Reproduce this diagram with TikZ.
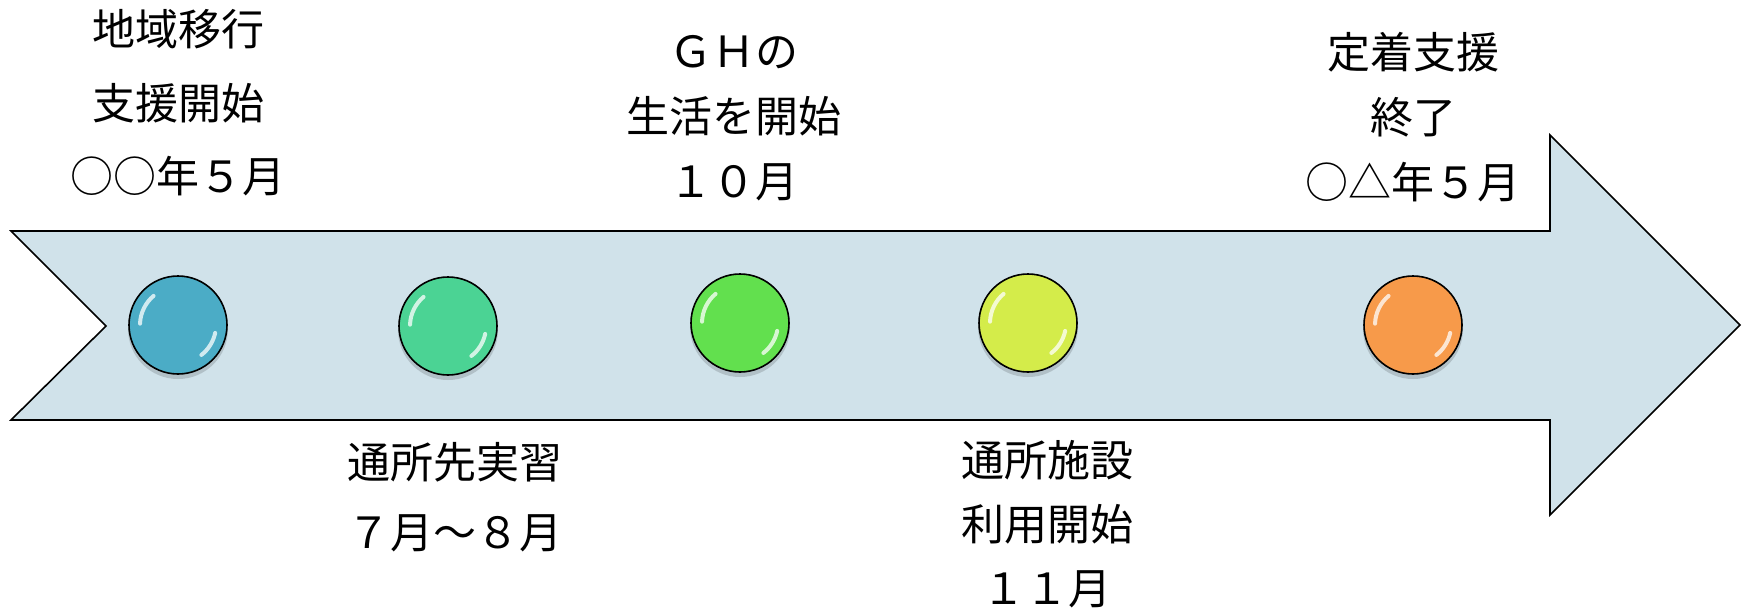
\documentclass[tikz,border=0pt]{standalone}
\usepackage{fontspec}
\newfontfamily\jp{Noto Sans CJK JP}
\definecolor{arrowfill}{HTML}{D0E2EA}
\definecolor{cA}{HTML}{4BACC6}
\definecolor{cB}{HTML}{4BD394}
\definecolor{cC}{HTML}{62E04E}
\definecolor{cD}{HTML}{D4EC4A}
\definecolor{cE}{HTML}{F79A4A}
\tikzset{
  label text/.style={font=\jp\fontsize{43}{LS}\selectfont, align=center, inner sep=0pt, text=black},
  dot/.style={circle, draw=black, line width=1.6pt, minimum size=98pt, inner sep=0pt},
  gloss/.style={white, line cap=round, line width=4pt, opacity=0.75}
}
\newcommand{\gdot}[4]{%
  \fill[black, opacity=0.15] (#1,#2+4) circle (50);
  \node[dot, fill=#3] (#4) at (#1,#2) {};
  \draw[gloss] ([shift={(-130:38)}]#4.center) arc (-130:-178:38);
  \draw[gloss] ([shift={(12:38)}]#4.center) arc (12:52:38);
}
\begin{document}
\begin{tikzpicture}[x=1pt,y=-1pt]
\useasboundingbox (0,0) rectangle (1744,614);
\draw[fill=arrowfill, line width=1.6pt, line join=miter]
  (11,231) -- (1550,231) -- (1550,135) -- (1740,325) -- (1550,515) -- (1550,420) -- (11,420) -- (106,326) -- cycle;
\gdot{178}{325}{cA}{d1}
\gdot{448}{326}{cB}{d2}
\gdot{740}{323}{cC}{d3}
\gdot{1028}{323}{cD}{d4}
\gdot{1413}{325}{cE}{d5}
\node[label text, font=\jp\fontsize{43}{73.5}\selectfont] (t1) at (178,103) {地域移行\\支援開始\\○○年５月};
\node[label text, font=\jp\fontsize{43}{65}\selectfont] (t2) at (734,118) {ＧＨの\\生活を開始\\１０月};
\node[label text, font=\jp\fontsize{43}{65}\selectfont] (t3) at (1413,117) {定着支援\\終了\\○△年５月};
\node[label text, font=\jp\fontsize{43}{70}\selectfont] (b1) at (455,497) {通所先実習\\７月～８月};
\node[label text, font=\jp\fontsize{43}{64}\selectfont] (b2) at (1047,524) {通所施設\\利用開始\\１１月};
\end{tikzpicture}
\end{document}
